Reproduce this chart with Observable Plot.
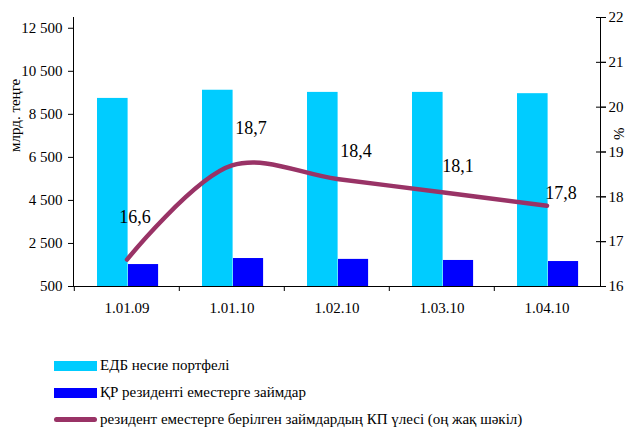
<!DOCTYPE html>
<html>
<head>
<meta charset="utf-8">
<script src="https://cdn.jsdelivr.net/npm/d3@7"></script>
<script src="https://cdn.jsdelivr.net/npm/@observablehq/plot@0.6"></script>
<style>
  body { margin: 0; background: #fff; font-family: "Liberation Serif", "DejaVu Serif", serif; }
  #chart svg { display: block; }
  #chart svg, #chart svg text { font-family: "Liberation Serif", "DejaVu Serif", serif !important; }
  .legend { padding-top: 22px; padding-left: 54px; }
  .item { display: flex; align-items: center; height: 27px; font-size: 15px; color: #000; white-space: nowrap; }
  .sw { width: 43px; height: 10px; margin-right: 3px; flex: none; }
  .sw.line { height: 5px; border-radius: 3px; }
</style>
</head>
<body>
<div id="chart"></div>
<script>
const dates = ["1.01.09", "1.01.10", "1.02.10", "1.03.10", "1.04.10"];
const portfolio = [9240, 9620, 9520, 9520, 9460];
const nonResidentLoans = [1520, 1800, 1760, 1710, 1660];
const nonResidentShare = [16.6, 18.7, 18.4, 18.1, 17.8];
const leftTicks = [500, 2500, 4500, 6500, 8500, 10500, 12500];
const rightTicks = [16, 17, 18, 19, 20, 21, 22];
const seriesNames = ["ЕДБ несие портфелі", "ҚР резиденті еместерге займдар", "резидент еместерге берілген займдардың КП үлесі (оң жақ шәкіл)"];
const leftLabel = "млрд. теңге";
const rightLabel = "%";

const colors = ["#00CCFF", "#0000FF", "#993366"];
const leftDomain = [500, 13000];
const rightDomain = [16, 22];
const toLeft = v => leftDomain[0] + (v - rightDomain[0]) / (rightDomain[1] - rightDomain[0]) * (leftDomain[1] - leftDomain[0]);
const fromLeft = v => rightDomain[0] + (v - leftDomain[0]) / (leftDomain[1] - leftDomain[0]) * (rightDomain[1] - rightDomain[0]);

const rows = dates.map((d, i) => ({date: d, portfolio: portfolio[i], loans: nonResidentLoans[i], share: nonResidentShare[i], shareL: toLeft(nonResidentShare[i])}));

const W = 630, ML = 73, MR = 30;
const step = (W - ML - MR) / dates.length;
const fmt = v => d3.format(",")(v).replace(/,/g, " ");
const labelOffsets = [[8, -42], [19, -37], [19, -28], [16, -26], [14, -13]];

const font = "'Liberation Serif', 'DejaVu Serif', serif";

const marks = [
  Plot.barY(rows, {x: "date", y1: leftDomain[0], y2: "portfolio", fill: colors[0], insetLeft: 23, insetRight: step - 54}),
  Plot.barY(rows, {x: "date", y1: leftDomain[0], y2: "loans", fill: colors[1], insetLeft: 54, insetRight: step - 84.5}),
  Plot.line(rows, {x: "date", y: "shareL", stroke: colors[2], strokeWidth: 4.5, curve: "catmull-rom", strokeLinecap: "round"}),
  Plot.frame({anchor: "left", stroke: "#000"}),
  Plot.frame({anchor: "right", stroke: "#000"}),
  Plot.frame({anchor: "bottom", stroke: "#000"}),
  Plot.axisY(leftTicks, {anchor: "left", tickSize: 5, tickPadding: 6, tickFormat: fmt, fontSize: 15, label: null}),
  Plot.axisY(rightTicks.map(toLeft), {anchor: "right", tickSize: 10, dx: -5, tickFormat: () => "", label: null}),
  Plot.axisY(rightTicks.map(toLeft), {anchor: "right", tickSize: 5, tickPadding: 3, tickFormat: v => String(Math.round(fromLeft(v))), fontSize: 15, label: null}),
  Plot.axisX({tickSize: 0, tickPadding: 16, fontSize: 15, label: null}),
  Plot.axisX({tickSize: 5, dx: -step / 2, tickFormat: () => "", label: null}),
  Plot.text([leftLabel], {frameAnchor: "left", dx: -58, rotate: -90, fontSize: 15}),
  Plot.text([rightLabel], {frameAnchor: "top-right", dx: 13, dy: 110, rotate: -90, fontSize: 15}),
  ...rows.map((r, i) => Plot.text([r], {x: "date", y: "shareL", text: d => String(d.share).replace(".", ","), dx: labelOffsets[i][0], dy: labelOffsets[i][1], fontSize: 18}))
];

const chart = Plot.plot({
  width: W,
  height: 330,
  marginLeft: ML,
  marginRight: MR,
  marginTop: 17,
  marginBottom: 44,
  style: {fontFamily: font, color: "#000", background: "#fff"},
  x: {domain: dates, padding: 0, axis: null},
  y: {domain: leftDomain, axis: null},
  marks
});
document.getElementById("chart").appendChild(chart);

const legend = document.createElement("div");
legend.className = "legend";
seriesNames.forEach((name, i) => {
  const item = document.createElement("div");
  item.className = "item";
  const sw = document.createElement("span");
  sw.className = "sw" + (i === 2 ? " line" : "");
  sw.style.background = colors[i];
  const t = document.createElement("span");
  t.textContent = name;
  item.appendChild(sw);
  item.appendChild(t);
  legend.appendChild(item);
});
document.body.appendChild(legend);
</script>
</body>
</html>
